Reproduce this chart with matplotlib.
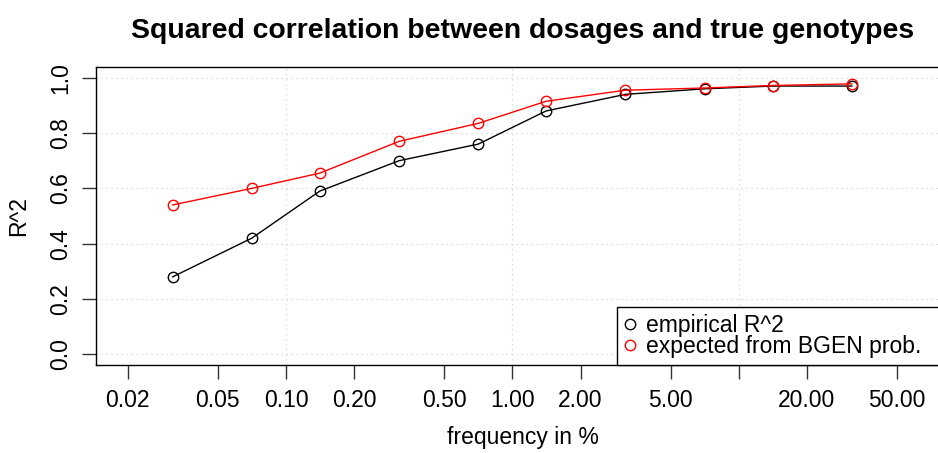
import numpy as np
import matplotlib
matplotlib.use("Agg")
import matplotlib.pyplot as plt
from matplotlib.ticker import FixedLocator, NullLocator

plt.rcParams['font.family'] = ['Liberation Sans', 'DejaVu Sans']

freq = [0.0316, 0.0707, 0.141, 0.316, 0.707, 1.41, 3.16, 7.07, 14.1, 31.6]
empirical_r2 = [0.28, 0.42, 0.59, 0.70, 0.76, 0.88, 0.94, 0.96, 0.97, 0.97]
expected_r2 = [0.54, 0.60, 0.655, 0.77, 0.835, 0.915, 0.955, 0.963, 0.972, 0.978]
xticks = [0.02, 0.05, 0.1, 0.2, 0.5, 1, 2, 5, 10, 20, 50]
xticklabels = ["0.02", "0.05", "0.10", "0.20", "0.50", "1.00", "2.00", "5.00", "", "20.00", "50.00"]
yticks = [0.0, 0.2, 0.4, 0.6, 0.8, 1.0]
xgrid = [0.1, 1, 10]

W, H = 938, 453
fig = plt.figure(figsize=(W / 100, H / 100), dpi=100)
left, right, top, bottom = 96, 950, 66.7, 365.3
ax = fig.add_axes([left / W, 1 - bottom / H, (right - left) / W, (bottom - top) / H])

ax.set_xscale('log')
ax.set_xlim(10 ** -1.839, 10 ** 1.933)
ax.set_ylim(-0.04, 1.04)

for g in xgrid:
    ax.axvline(g, color='lightgray', lw=0.9, ls=(0, (1, 3)), zorder=0)
for g in yticks:
    ax.axhline(g, color='lightgray', lw=0.9, ls=(0, (1, 3)), zorder=0)

ax.plot(freq, empirical_r2, color='black', lw=1.0, marker='o', ms=7.5,
        mfc='none', mec='black', mew=1.0, label='empirical R^2')
ax.plot(freq, expected_r2, color='red', lw=1.0, marker='o', ms=7.5,
        mfc='none', mec='red', mew=1.0, label='expected from BGEN prob.')

ax.xaxis.set_major_locator(FixedLocator(xticks))
ax.xaxis.set_minor_locator(NullLocator())
ax.set_xticklabels(xticklabels)
ax.set_yticks(yticks)
ax.set_yticklabels(["0.0", "0.2", "0.4", "0.6", "0.8", "1.0"], rotation=90, va='center')

ax.tick_params(axis='both', direction='out', length=10, width=1.0, color='#333333',
               labelsize=16.5, pad=7)
for s in ax.spines.values():
    s.set_linewidth(1.0)

ax.set_title("Squared correlation between dosages and true genotypes",
             fontsize=20.4, fontweight='bold', pad=21)
ax.set_xlabel("frequency in %", fontsize=16.5, labelpad=10)
ax.set_ylabel("R^2", fontsize=16.5, labelpad=14)

leg = ax.legend(loc='lower left',
                bbox_to_anchor=(617 / W, 1 - bottom / H, (right - 617) / W, 0.1),
                bbox_transform=fig.transFigure, mode='expand',
                frameon=True, fancybox=False, edgecolor='black',
                fontsize=16.5, borderaxespad=0, handlelength=0.5, handletextpad=0.45,
                borderpad=0.3, labelspacing=-0.05, framealpha=1)
leg.get_frame().set_linewidth(1.0)
for h in leg.legend_handles:
    h.set_linestyle('none')

fig.savefig("out.png", dpi=100)
